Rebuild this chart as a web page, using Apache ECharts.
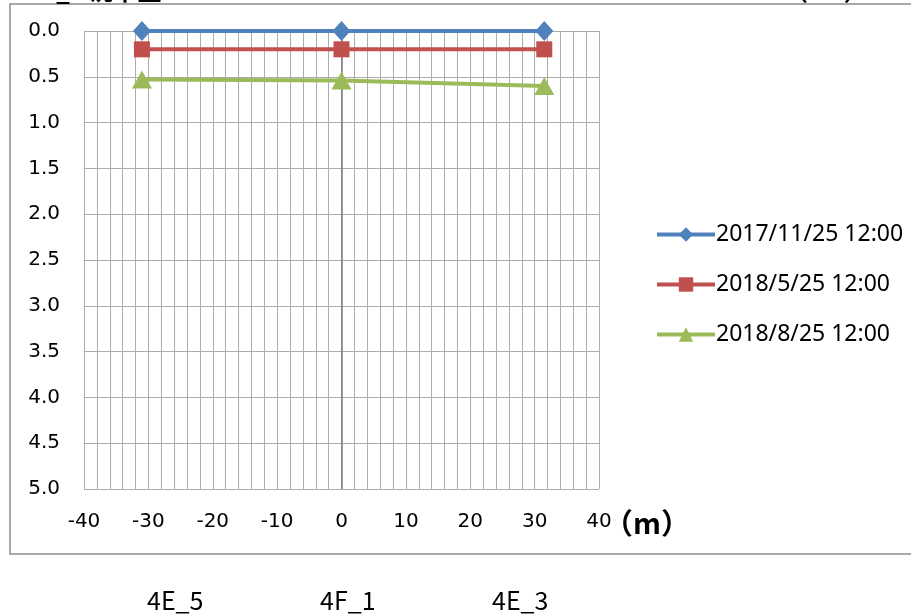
<!DOCTYPE html>
<html>
<head>
<meta charset="utf-8">
<script src="https://cdn.jsdelivr.net/npm/echarts@6/dist/echarts.min.js"></script>
<style>html,body{margin:0;padding:0;background:#fff}#c{width:911px;height:616px}</style>
</head>
<body>
<div id="c"></div>
<script>
const seriesNames = ['2017/11/25 12:00', '2018/5/25 12:00', '2018/8/25 12:00'];
const xPositions = [-31, 0, 31.5];
const settle1 = [0.0, 0.0, 0.0];
const settle2 = [0.2, 0.2, 0.2];
const settle3 = [0.53, 0.54, 0.60];
const stationLabels = ['4E_5', '4F_1', '4E_3'];
const xUnit = '（m）';
const titleText = '4F_1 沈下量';
const yUnit = '（cm）';

const colors = ['#4F81BD', '#C0504D', '#9BBB59'];
const symbols = ['diamond', 'rect', 'triangle'];
const symbolSizes = [[18, 20], [16, 16], [20, 18]];
const allValues = [settle1, settle2, settle3];

const chart = echarts.init(document.getElementById('c'), null, {renderer: 'canvas'});
const series = allValues.map((vals, i) => ({
  name: seriesNames[i],
  type: 'line',
  data: vals.map((v, j) => [xPositions[j], v]),
  symbol: symbols[i],
  symbolSize: symbolSizes[i],
  showAllSymbol: true,
  lineStyle: {color: colors[i], width: 4},
  itemStyle: {color: colors[i]},
  z: 10 + i,
  markLine: i === 0 ? {
    silent: true, symbol: 'none', label: {show: false},
    lineStyle: {color: '#7a7a7a', width: 1.5, type: 'solid'},
    data: [{xAxis: 0}], z: 1
  } : undefined
}));

const stationPos = [175, 348, 520];
const graphics = stationLabels.map((t, i) => ({
  type: 'text', left: stationPos[i] - 28, top: 588,
  style: {text: t, font: '25px "Noto Sans CJK JP"', fill: '#000'}
}));
graphics.push({
  type: 'rect', shape: {x: 10, y: 4, width: 930, height: 550},
  style: {fill: 'none', stroke: '#8c8c8c', lineWidth: 1.5}, z: -1
});
graphics.push({
  type: 'text', x: 604, y: 523,
  style: {text: xUnit, font: 'bold 29px "Noto Sans CJK JP"', fill: '#000', verticalAlign: 'middle'}
});
graphics.push({
  type: 'text', x: 28, y: 3,
  style: {text: titleText, font: 'bold 24px "Noto Sans CJK JP"', fill: '#000', verticalAlign: 'bottom'}
});
graphics.push({
  type: 'text', x: 784, y: 3,
  style: {text: yUnit, font: 'bold 24px "Noto Sans CJK JP"', fill: '#000', verticalAlign: 'bottom'}
});

chart.setOption({
  animation: false,
  backgroundColor: '#fff',
  grid: {left: 84, top: 31, width: 515, height: 458, containLabel: false},
  xAxis: {
    type: 'value', min: -40, max: 40, interval: 10,
    axisLine: {show: false, onZero: false},
    axisTick: {show: false},
    axisLabel: {margin: 23, fontFamily: 'DejaVu Sans', fontSize: 20, color: '#000'},
    splitLine: {show: true, lineStyle: {color: '#acacac', width: 1}},
    minorTick: {show: false, splitNumber: 5},
    minorSplitLine: {show: true, lineStyle: {color: '#acacac', width: 1}}
  },
  yAxis: {
    type: 'value', inverse: true, min: 0, max: 5, interval: 0.5,
    axisLine: {show: false, onZero: false},
    axisTick: {show: false},
    axisLabel: {margin: 24, fontFamily: 'DejaVu Sans', fontSize: 20, color: '#000',
      formatter: v => v.toFixed(1)},
    splitLine: {show: true, lineStyle: {color: '#acacac', width: 1}}
  },
  legend: {
    orient: 'vertical', left: 650, top: 218,
    itemWidth: 58, itemHeight: 18, itemGap: 27,
    lineStyle: {width: 4},
    textStyle: {fontFamily: 'Noto Sans', fontSize: 23, color: '#000', padding: [0, 0, 0, -4]},
    data: seriesNames
  },
  series: series,
  graphic: graphics
});
</script>
</body>
</html>
